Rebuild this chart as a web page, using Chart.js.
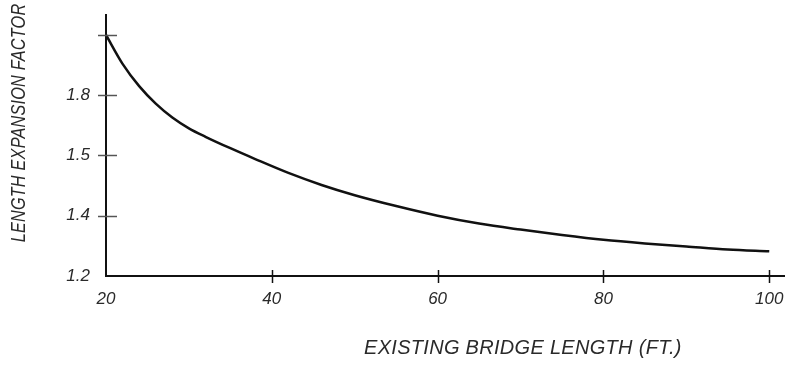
<!DOCTYPE html>
<html>
<head>
<meta charset="utf-8">
<script src="https://cdn.jsdelivr.net/npm/chart.js@4.4.1/dist/chart.umd.min.js"></script>
<style>
  html, body { margin: 0; padding: 0; background: #fff; }
  #wrap { width: 785px; height: 367px; }
</style>
</head>
<body>
<div id="wrap"><canvas id="myChart" width="785" height="367"></canvas></div>
<script>
// bridge length (ft) and position on the (non-linear) factor axis
const lengths = [20, 22, 24, 26, 28, 30, 32, 35, 38, 42, 46, 50, 55, 60, 65, 70, 75, 80, 85, 90, 95, 100];
const factorPos = [4.0, 3.52, 3.15, 2.86, 2.63, 2.45, 2.31, 2.12, 1.94, 1.71, 1.51, 1.34, 1.16, 1.00, 0.87, 0.77, 0.68, 0.60, 0.54, 0.49, 0.44, 0.41];

const xTicks = [20, 40, 60, 80, 100];
const yTicks = [0, 1, 2, 3, 4];
const yTickLabels = ['1.2', '1.4', '1.5', '1.8', ''];

const xTitle = 'EXISTING BRIDGE LENGTH (FT.)';
const yTitle = 'LENGTH EXPANSION FACTOR';

const labelFont = { family: 'Liberation Sans', size: 17, style: 'italic' };
const textColor = '#2a2a2a';

// ticks that cross the axis lines, plus the two axis titles
const cadAxes = {
    id: 'cadAxes',
    afterDatasetsDraw(chart) {
        const ctx = chart.ctx;
        const xs = chart.scales.x;
        const ys = chart.scales.y;
        const area = chart.chartArea;
        ctx.save();
        ctx.strokeStyle = '#111';
        ctx.lineWidth = 1.5;
        xTicks.slice(1).forEach(v => {
            const px = Math.round(xs.getPixelForValue(v)) + 0.5;
            ctx.beginPath();
            ctx.moveTo(px, area.bottom - 6);
            ctx.lineTo(px, area.bottom + 7);
            ctx.stroke();
        });
        ctx.strokeStyle = '#555';
        yTicks.slice(1).forEach(v => {
            const py = Math.round(ys.getPixelForValue(v)) + 0.5;
            ctx.beginPath();
            ctx.moveTo(area.left - 8, py);
            ctx.lineTo(area.left + 11, py);
            ctx.stroke();
        });

        ctx.fillStyle = textColor;
        ctx.font = 'italic 20px "Liberation Sans"';
        ctx.textBaseline = 'middle';
        ctx.textAlign = 'left';
        ctx.letterSpacing = '0.3px';
        ctx.fillText(xTitle, 364, 348);

        ctx.translate(19, 123);
        ctx.rotate(-Math.PI / 2);
        ctx.scale(0.81, 1);
        ctx.textAlign = 'center';
        ctx.fillText(yTitle, 0, 0);
        ctx.restore();
    }
};

var ctx = document.getElementById('myChart').getContext('2d');

var myChart = new Chart(ctx, {
    type: 'line',
    data: {
        datasets: [{
            data: lengths.map((x, i) => ({ x: x, y: factorPos[i] })),
            borderColor: '#111',
            borderWidth: 2.5,
            pointRadius: 0,
            fill: false,
            cubicInterpolationMode: 'monotone'
        }]
    },
    options: {
        responsive: false,
        animation: false,
        layout: { padding: { top: 15, right: 0, left: 0, bottom: 0 } },
        plugins: {
            legend: { display: false },
            tooltip: { enabled: false }
        },
        scales: {
            x: {
                type: 'linear',
                min: 20,
                max: 101.9,
                afterBuildTicks: s => { s.ticks = xTicks.map(v => ({ value: v })); },
                afterFit: s => { s.height = 91; s.paddingLeft = 0; s.paddingRight = 0; },
                grid: { display: false, drawTicks: false },
                border: { display: true, color: '#111', width: 2 },
                ticks: {
                    font: labelFont,
                    color: textColor,
                    padding: 13,
                    maxRotation: 0,
                    autoSkip: false,
                    callback: v => String(v)
                }
            },
            y: {
                type: 'linear',
                min: 0,
                max: 4.33,
                afterBuildTicks: s => { s.ticks = yTicks.map(v => ({ value: v })); },
                afterFit: s => { s.width = 106; s.paddingTop = 0; s.paddingBottom = 0; },
                grid: { display: false, drawTicks: false },
                border: { display: true, color: '#111', width: 2 },
                ticks: {
                    font: labelFont,
                    color: textColor,
                    padding: 16,
                    autoSkip: false,
                    callback: v => yTickLabels[yTicks.indexOf(v)]
                }
            }
        }
    },
    plugins: [cadAxes]
});
</script>
</body>
</html>
